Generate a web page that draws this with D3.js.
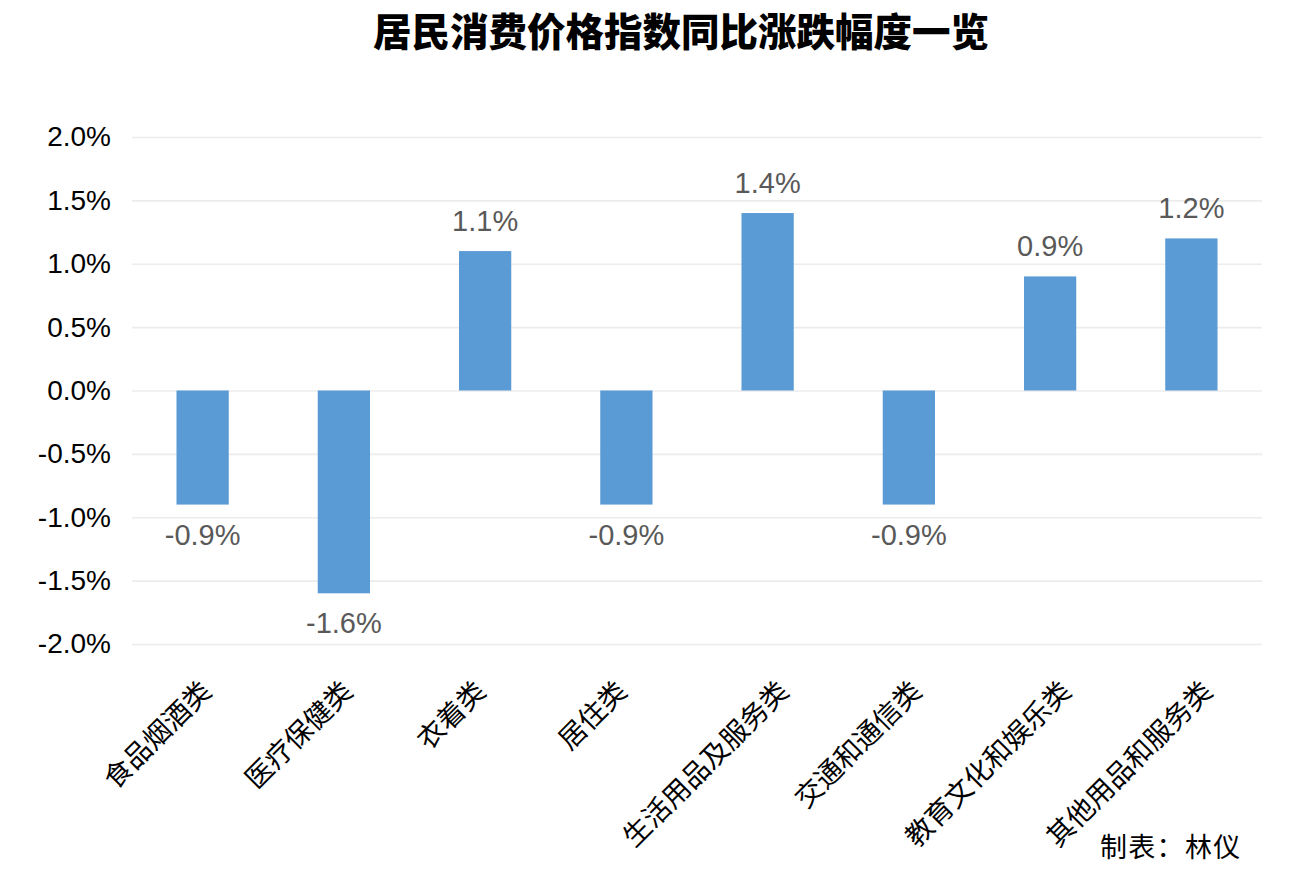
<!DOCTYPE html>
<html>
<head>
<meta charset="utf-8">
<script src="https://cdn.jsdelivr.net/npm/d3@7/dist/d3.min.js"></script>
<style>
  html, body { margin: 0; padding: 0; background: #fff; }
  svg { display: block; }
</style>
</head>
<body>
<svg id="chart" width="1312" height="870"></svg>
<script>
const title = "居民消费价格指数同比涨跌幅度一览";
const categories = ["食品烟酒类", "医疗保健类", "衣着类", "居住类", "生活用品及服务类", "交通和通信类", "教育文化和娱乐类", "其他用品和服务类"];
const values = [-0.9, -1.6, 1.1, -0.9, 1.4, -0.9, 0.9, 1.2];
const yTicks = [-2.0, -1.5, -1.0, -0.5, 0.0, 0.5, 1.0, 1.5, 2.0];
const footer = "制表：林仪";

const svg = d3.select("#chart");
const plotLeft = 132, plotRight = 1262, plotTop = 137, plotBottom = 644;

const x = d3.scaleBand().domain(categories).range([plotLeft, plotRight]).paddingInner(0.63).paddingOuter(0.315);
const y = d3.scaleLinear().domain([-2, 2]).range([plotBottom, plotTop]);

// Title
svg.append("text")
  .attr("x", 681).attr("y", 46)
  .attr("text-anchor", "middle")
  .attr("font-family", "'Noto Sans CJK SC', sans-serif")
  .attr("font-weight", 900)
  .attr("font-size", 38.5)
  .attr("fill", "#000")
  .text(title);

// Y axis + gridlines
const yAxis = svg.append("g")
  .attr("transform", `translate(${plotLeft},0)`)
  .call(d3.axisLeft(y).tickValues(yTicks).tickSize(-(plotRight - plotLeft)).tickPadding(21)
    .tickFormat(d => d.toFixed(1) + "%"));
yAxis.select(".domain").remove();
yAxis.selectAll(".tick line").attr("stroke", "#ececec").attr("stroke-width", 1.6);
yAxis.selectAll(".tick text")
  .attr("font-family", "'Liberation Sans', Arial, sans-serif")
  .attr("font-size", 28)
  .attr("fill", "#000");

// Bars
svg.append("g").selectAll("rect")
  .data(values)
  .join("rect")
  .attr("x", (d, i) => x(categories[i]))
  .attr("width", x.bandwidth())
  .attr("y", d => y(Math.max(0, d)))
  .attr("height", d => Math.abs(y(d) - y(0)))
  .attr("fill", "#5b9bd5");

// Data labels
svg.append("g").selectAll("text")
  .data(values)
  .join("text")
  .attr("x", (d, i) => x(categories[i]) + x.bandwidth() / 2)
  .attr("y", d => d >= 0 ? y(d) - 20 : y(d) + 40)
  .attr("text-anchor", "middle")
  .attr("font-family", "'Liberation Sans', Arial, sans-serif")
  .attr("font-size", 29)
  .attr("fill", "#595959")
  .text(d => d.toFixed(1) + "%");

// Category labels (rotated)
const xAxis = svg.append("g")
  .call(d3.axisBottom(x).tickSize(0).tickPadding(0));
xAxis.select(".domain").remove();
xAxis.selectAll(".tick").attr("transform", null);
xAxis.selectAll(".tick text")
  .attr("font-family", "'Noto Sans CJK SC', sans-serif")
  .attr("font-size", 27.5)
  .attr("fill", "#000")
  .attr("text-anchor", "end")
  .attr("dy", null)
  .attr("y", null)
  .attr("transform", d => {
    const cx = x(d) + x.bandwidth() / 2 + 4.1 * (d.length - 3) + 2;
    return `translate(${cx},693) rotate(-45)`;
  });

// Footer
svg.append("text")
  .attr("x", 1100).attr("y", 857)
  .attr("font-family", "'Noto Sans CJK SC', sans-serif")
  .attr("font-size", 27)
  .attr("letter-spacing", 1.3)
  .attr("fill", "#000")
  .text(footer);
</script>
</body>
</html>
